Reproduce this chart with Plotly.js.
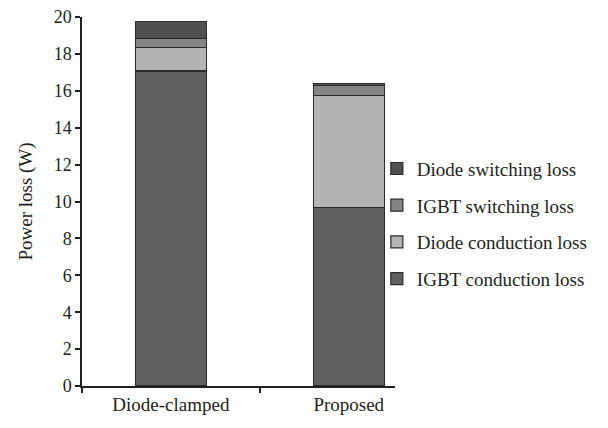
<!DOCTYPE html>
<html><head><meta charset="utf-8">
<script src="https://cdn.plot.ly/plotly-3.0.1.min.js"></script>
<style>body{margin:0;background:#fff}#c{width:608px;height:428px}</style>
</head><body><div id="c"></div>
<script>
const categories = ["Diode-clamped", "Proposed"];
const igbtConduction = [17.07, 9.66];
const diodeConduction = [1.27, 6.10];
const igbtSwitching = [0.49, 0.54];
const diodeSwitching = [0.92, 0.11];
const seriesNames = ["IGBT conduction loss", "Diode conduction loss", "IGBT switching loss", "Diode switching loss"];
const seriesValues = [igbtConduction, diodeConduction, igbtSwitching, diodeSwitching];
const colors = ["#606060", "#b4b4b4", "#858585", "#505050"];

const traces = seriesNames.map((n, i) => ({
  type: "bar", name: n, x: categories, y: seriesValues[i], width: 0.4,
  legendgroup: "g" + i, legendrank: 10 - i,
  marker: {color: colors[i], line: {color: "#2a2a2a", width: 1.2}}
}));

const font = "Liberation Serif, DejaVu Serif, serif";
Plotly.newPlot("c", traces, {
  barmode: "stack",
  width: 608, height: 428,
  margin: {l: 82, r: 213, t: 17, b: 42},
  paper_bgcolor: "#fff", plot_bgcolor: "#fff",
  font: {family: font, color: "#231f20", size: 19},
  xaxis: {type: "category", range: [-0.5, 1.26], tickson: "boundaries", ticks: "outside", ticklen: 5, tickwidth: 1.5, tickcolor: "#231f20",
    showline: true, linecolor: "#231f20", linewidth: 1.5, showgrid: false, zeroline: false, tickfont: {size: 19, family: font}},
  yaxis: {range: [0, 20], dtick: 2, ticks: "outside", ticklen: 5, tickwidth: 1.5, tickcolor: "#231f20",
    showline: true, linecolor: "#231f20", linewidth: 1.5, showgrid: false, zeroline: false,
    tickfont: {size: 18, family: font},
    title: {text: "Power loss (W)", font: {size: 19, family: font}, standoff: 16}},
  legend: {x: 0.942, xanchor: "left", y: 0.44, yanchor: "middle", traceorder: "grouped", tracegroupgap: 9,
    font: {size: 19, family: font}, bgcolor: "rgba(0,0,0,0)"},
  showlegend: true
}, {displayModeBar: false});
</script></body></html>
